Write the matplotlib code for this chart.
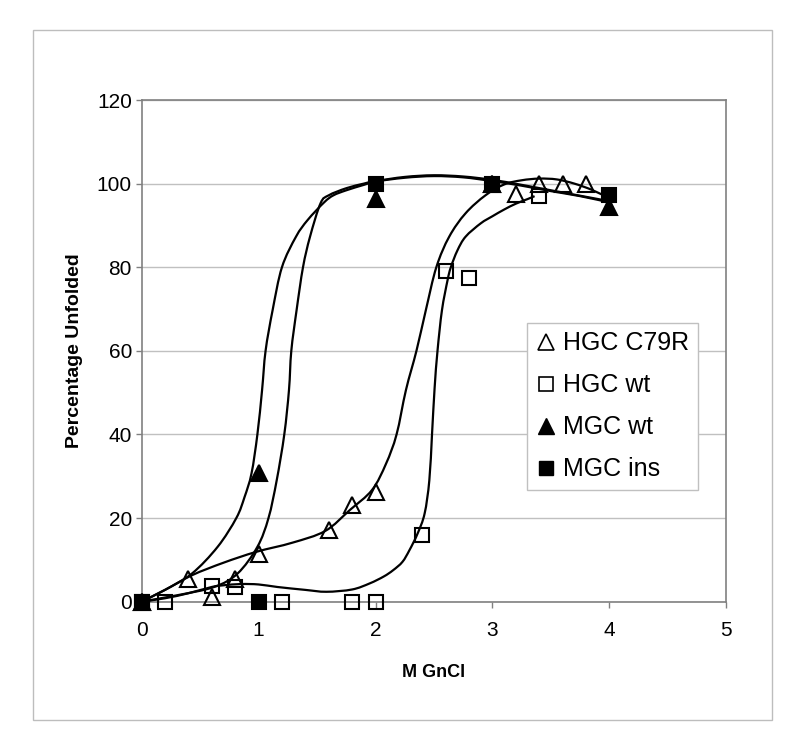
import matplotlib
matplotlib.use("Agg")
import matplotlib.pyplot as plt
from matplotlib.patches import Rectangle, PathPatch
from matplotlib.path import Path
from matplotlib.lines import Line2D

plt.rcParams['font.family'] = ['Liberation Sans', 'DejaVu Sans']

# ---- marker data ----
hgc_c79r_x = [0, 0.4, 0.6, 0.8, 1.0, 1.6, 1.8, 2.0, 3.0, 3.2, 3.4, 3.6, 3.8]
hgc_c79r_y = [0, 5.5, 1.2, 5.3, 11.3, 17.2, 23.0, 26.3, 100, 97.5, 100, 100, 100]

hgc_wt_x = [0, 0.2, 0.6, 0.8, 1.2, 1.8, 2.0, 2.4, 2.6, 2.8, 3.4]
hgc_wt_y = [0, 0, 3.8, 3.6, 0, 0, 0, 16, 79, 77.5, 97]

mgc_wt_x = [0, 1.0, 2.0, 3.0, 4.0]
mgc_wt_y = [0, 30.8, 96.3, 100, 94.5]

mgc_ins_x = [0, 1.0, 2.0, 3.0, 4.0]
mgc_ins_y = [0, 0, 100, 100, 97.2]

# ---- fitted curves (drawn as smoothed lines) ----
fit_mgc_wt_x = [0, 0.2, 0.43, 0.65, 0.81, 0.88, 0.94, 0.99, 1.03, 1.06, 1.12, 1.2,
                1.32, 1.42, 1.56, 1.64, 1.75, 1.9, 2.0, 2.25, 2.5, 2.75, 3.0, 3.25,
                3.5, 3.75, 4.0]
fit_mgc_wt_y = [0, 2.8, 6.7, 13.1, 20, 25, 30.7, 40, 50.6, 60, 69.7, 80,
                87.3, 91.3, 95.5, 97.2, 98.4, 99.7, 100.5, 101.4, 101.8, 101.5, 100.6, 99.5,
                98.2, 97.0, 95.5]

fit_mgc_ins_x = [0, 0.31, 0.62, 0.82, 0.99, 1.085, 1.155, 1.22, 1.26, 1.28, 1.325,
                 1.38, 1.44, 1.53, 1.6, 1.75, 1.9, 2.0, 2.25, 2.5, 2.75, 3.0, 3.25,
                 3.5, 3.75, 4.0]
fit_mgc_ins_y = [0, 1.55, 3.5, 6.7, 13.1, 20, 29, 40, 50.6, 60, 69.7,
                 80, 87.3, 95.3, 97.2, 98.9, 100.0, 100.6, 101.6, 102.0, 101.7, 100.9, 99.7,
                 98.4, 97.1, 95.8]

fit_hgc_c79r_x = [0, 0.2, 0.43, 0.7, 0.98, 1.29, 1.57, 1.78, 1.97, 2.09, 2.18, 2.26,
                  2.35, 2.43, 2.52, 2.63, 2.77, 2.94, 3.1, 3.25, 3.4, 3.55, 3.7, 3.85, 4.0]
fit_hgc_c79r_y = [0, 2.8, 6.3, 9.3, 11.9, 14.1, 16.9, 21.9, 26.7, 33, 40, 50.6,
                  60, 69.7, 80, 87.3, 92.9, 97.2, 99.8, 100.8, 101.2, 101.0, 100.0, 98.5, 96.5]

fit_hgc_wt_x = [0, 0.2, 0.4, 0.6, 0.7, 0.85, 1.0, 1.16, 1.4, 1.58, 1.8, 1.95, 2.07,
                2.15, 2.23, 2.29, 2.36, 2.42, 2.46, 2.483, 2.505, 2.53, 2.568, 2.616,
                2.644, 2.7, 2.77, 2.9, 3.0, 3.1, 3.2, 3.3, 3.36]
fit_hgc_wt_y = [0, 0.8, 2.0, 3.5, 3.9, 4.2, 4.1, 3.5, 2.8, 2.35, 2.9, 4.35, 6.0,
                7.5, 9.5, 12.3, 16.3, 21.1, 29, 40, 51, 60, 69.7, 76.9,
                80, 84, 87.3, 90.5, 92.2, 93.8, 95.2, 96.3, 97.0]

x_ticks = [0, 1, 2, 3, 4, 5]
y_ticks = [0, 20, 40, 60, 80, 100, 120]
names = ['HGC C79R', 'HGC wt', 'MGC wt', 'MGC ins']


def smooth_path(xs, ys):
    """Excel-style smoothed line: Bezier segments through the given points."""
    pts = list(zip(xs, ys))
    verts = [pts[0]]
    codes = [Path.MOVETO]
    n = len(pts)
    for i in range(n - 1):
        p0 = pts[i - 1] if i > 0 else pts[i]
        p1 = pts[i]
        p2 = pts[i + 1]
        p3 = pts[i + 2] if i + 2 < n else pts[i + 1]
        c1 = (p1[0] + (p2[0] - p0[0]) / 6.0, p1[1] + (p2[1] - p0[1]) / 6.0)
        c2 = (p2[0] - (p3[0] - p1[0]) / 6.0, p2[1] - (p3[1] - p1[1]) / 6.0)
        verts += [c1, c2, p2]
        codes += [Path.CURVE4, Path.CURVE4, Path.CURVE4]
    return Path(verts, codes)


fig = plt.figure(figsize=(8.0, 7.52), dpi=100)
fig.patch.set_facecolor('white')

# outer chart frame
fig.add_artist(Rectangle((0.041, 0.043), 0.924, 0.917, transform=fig.transFigure,
                         fill=False, edgecolor='#bdbdbd', linewidth=1.0))

ax = fig.add_axes([0.177, 0.2, 0.731, 0.667])
ax.set_xlim(0, 5)
ax.set_ylim(0, 120)
ax.set_xticks(x_ticks)
ax.set_yticks(y_ticks)
ax.yaxis.grid(True, color='#c0c0c0', linewidth=1.0)
ax.set_axisbelow(True)
for s in ax.spines.values():
    s.set_color('#808080')
    s.set_linewidth(1.2)
ax.tick_params(axis='both', direction='out', length=4, width=1, color='#808080',
               labelsize=15)
ax.tick_params(axis='x', pad=10)
ax.tick_params(axis='y', pad=3)

for fx, fy in [(fit_mgc_wt_x, fit_mgc_wt_y), (fit_mgc_ins_x, fit_mgc_ins_y),
               (fit_hgc_c79r_x, fit_hgc_c79r_y), (fit_hgc_wt_x, fit_hgc_wt_y)]:
    ax.add_patch(PathPatch(smooth_path(fx, fy), facecolor='none', edgecolor='black',
                           linewidth=1.6, zorder=3, clip_on=False))

ms = 11
mew = 1.5
ax.plot(hgc_c79r_x, hgc_c79r_y, linestyle='none', marker='^', markersize=ms,
        markerfacecolor='none', markeredgecolor='black', markeredgewidth=mew, zorder=4, clip_on=False)
ax.plot(hgc_wt_x, hgc_wt_y, linestyle='none', marker='s', markersize=ms - 0.5,
        markerfacecolor='none', markeredgecolor='black', markeredgewidth=mew, zorder=4, clip_on=False)
ax.plot(mgc_wt_x, mgc_wt_y, linestyle='none', marker='^', markersize=ms,
        markerfacecolor='black', markeredgecolor='black', markeredgewidth=mew, zorder=5, clip_on=False)
ax.plot(mgc_ins_x, mgc_ins_y, linestyle='none', marker='s', markersize=ms - 0.5,
        markerfacecolor='black', markeredgecolor='black', markeredgewidth=mew, zorder=6, clip_on=False)

ax.set_xlabel('M GnCl', fontsize=13, fontweight='bold', labelpad=17)
ax.set_ylabel('Percentage Unfolded', fontsize=14, fontweight='bold', labelpad=10)

handles = [
    Line2D([], [], linestyle='none', marker='^', markersize=11, markerfacecolor='none',
           markeredgecolor='black', markeredgewidth=1.2),
    Line2D([], [], linestyle='none', marker='s', markersize=9.5, markerfacecolor='none',
           markeredgecolor='black', markeredgewidth=1.2),
    Line2D([], [], linestyle='none', marker='^', markersize=11, markerfacecolor='black',
           markeredgecolor='black'),
    Line2D([], [], linestyle='none', marker='s', markersize=9.5, markerfacecolor='black',
           markeredgecolor='black'),
]
leg = fig.legend(handles, names, loc='upper left', bbox_to_anchor=(0.659, 0.571),
                 bbox_transform=fig.transFigure, fontsize=18, frameon=True, fancybox=False,
                 edgecolor='#c0c0c0', framealpha=1, borderaxespad=0, handlelength=0.8,
                 handletextpad=0.28, labelspacing=0.72, borderpad=0.35)
leg.get_frame().set_linewidth(1.0)

fig.savefig('out.png', dpi=100, facecolor='white')
